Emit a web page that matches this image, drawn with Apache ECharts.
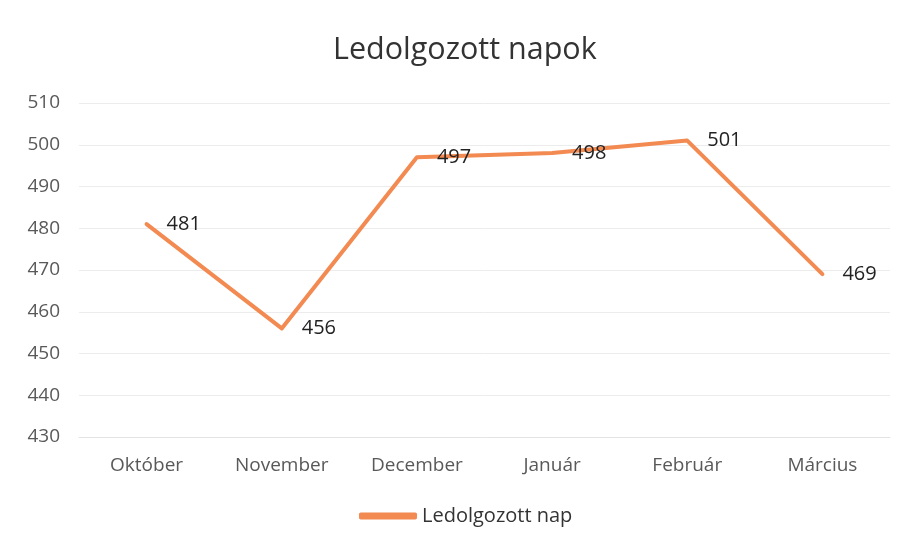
<!DOCTYPE html>
<html>
<head>
<meta charset="utf-8">
<script src="https://cdn.jsdelivr.net/npm/echarts@6/dist/echarts.min.js"></script>
<style>
  html, body { margin: 0; padding: 0; background: #fff; }
  #chart { width: 905px; height: 544px; }
</style>
</head>
<body>
<div id="chart"></div>
<script>
const months = ['Október', 'November', 'December', 'Január', 'Február', 'Március']
const workedDays = [481, 456, 497, 498, 501, 469]
const seriesName = 'Ledolgozott nap'
const chartTitle = 'Ledolgozott napok'

const font = '"Open Sans", Lato, sans-serif'
const lineColor = '#F28A52'

const myChart = echarts.init(document.getElementById('chart'))
const option = {
  backgroundColor: '#fff',
  title: {
    text: chartTitle,
    left: 328,
    top: 30,
    textStyle: { fontFamily: font, fontSize: 30.5, fontWeight: 'normal', color: '#333' }
  },
  grid: { left: 79, right: 15, top: 103, bottom: 107 },
  legend: {
    bottom: 13,
    left: 354,
    itemWidth: 58,
    itemHeight: 7,
    itemGap: 4,
    textStyle: { fontFamily: font, fontSize: 20, color: '#333' },
    data: [{ name: seriesName, icon: 'roundRect' }]
  },
  xAxis: {
    type: 'category',
    data: months,
    axisLine: { show: true, lineStyle: { color: '#e4e4e4' } },
    axisTick: { show: false },
    axisLabel: { fontFamily: font, fontSize: 19, color: '#595959', margin: 19 }
  },
  yAxis: {
    type: 'value',
    min: 430,
    max: 510,
    interval: 10,
    axisLine: { show: false },
    axisTick: { show: false },
    axisLabel: { fontFamily: font, fontSize: 19, color: '#595959', margin: 19 },
    splitLine: { lineStyle: { color: '#ececec' } }
  },
  series: [{
    name: seriesName,
    type: 'line',
    data: workedDays,
    showSymbol: true,
    symbol: 'circle',
    symbolSize: 0,
    lineStyle: { color: lineColor, width: 4, cap: 'round', join: 'round' },
    itemStyle: { color: lineColor },
    label: {
      show: true,
      position: 'right',
      distance: 20,
      fontFamily: font,
      fontSize: 20,
      color: '#222'
    }
  }]
}
myChart.setOption(option, true)
</script>
</body>
</html>
